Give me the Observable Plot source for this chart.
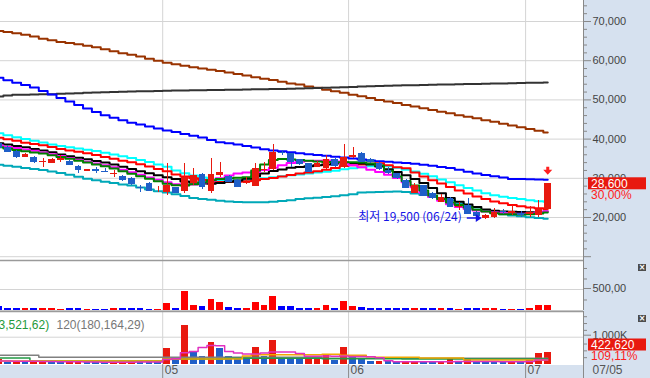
<!DOCTYPE html>
<html>
<head>
<meta charset="utf-8">
<script src="https://cdn.jsdelivr.net/npm/d3@7"></script>
<script src="https://cdn.jsdelivr.net/npm/@observablehq/plot@0.6"></script>
<style>
html,body{margin:0;padding:0;background:#fff;}
#wrap{position:relative;width:650px;height:378px;overflow:hidden;background:#fff;font-family:"Liberation Sans",Arial,sans-serif;}
#axisbg{position:absolute;left:583px;top:0;width:67px;height:378px;background:#d6e1ef;}
#xbg{position:absolute;left:0;top:365px;width:650px;height:13px;background:#d6e1ef;}
.icon{position:absolute;left:638px;width:8px;height:7px;background:#4d4d4d;color:#fff;font:bold 8px/7px "DejaVu Sans",sans-serif;text-align:center;}
</style>
</head>
<body>
<div id="wrap"><div id="axisbg"></div><div id="xbg"></div>
<div class="icon" style="top:264px">×</div><div class="icon" style="top:315px">×</div>
</div>
<script>
// ---------- data ----------
const dates = ["04/05","04/06","04/07","04/08","04/11","04/12","04/13","04/14","04/15","04/18","04/19","04/20","04/21","04/22","04/25","04/26","04/27","04/28","04/29",
"05/02","05/03","05/04","05/06","05/09","05/10","05/11","05/12","05/13","05/16","05/17","05/18","05/19","05/20","05/23","05/24","05/25","05/26","05/27","05/30","05/31",
"06/02","06/03","06/07","06/08","06/09","06/10","06/13","06/14","06/15","06/16","06/17","06/20","06/21","06/22","06/23","06/24","06/27","06/28","06/29","06/30",
"07/01","07/04","07/05"];
const opens = [38880,37930,36910,35380,35310,34080,33780,34540,34290,33010,31810,32120,31730,30890,30460,29950,27730,28800,27020,26450,27650,26710,28600,30970,26710,30710,30460,29440,28600,27990,31990,32170,36660,36250,34720,33700,32880,32420,34720,32830,35180,36400,34720,33850,31990,31150,29440,26200,28160,26200,23900,24920,22550,23060,21280,19670,20100,21530,21100,21100,20770,20510,22050];
const highs = [39130,38370,37090,36330,35560,35050,35050,35820,34540,33140,32240,32830,32580,31990,30590,30080,28290,28930,27910,33700,27780,33700,32420,31300,34970,33950,30590,29570,30280,33700,34110,38620,37090,36400,34920,33780,34290,35820,35050,38620,37730,36580,35050,34030,32760,31220,29570,28670,28290,26380,25870,25100,23900,24770,21530,20770,22300,22040,23060,21530,22810,24340,28600];
const lows = [37350,36580,34970,35310,33850,32880,33650,34110,33270,31350,31730,31150,31400,30280,29310,28290,26450,26630,26380,25610,26000,26050,28160,27070,26200,30280,28930,27650,28500,27910,31560,31990,35820,32830,33270,31480,32760,32370,32880,32420,34970,34030,33780,31990,30970,29690,27400,26120,25230,24590,23750,22550,21790,20640,20260,19500,19740,20770,20510,20080,20000,20080,21900];
const closes = [37600,36660,35380,36070,34110,34410,34800,34970,33340,32070,32170,31860,31480,31300,29440,28420,27400,26710,27270,28160,26050,30280,30710,27580,30970,31400,29000,27730,29000,32580,32370,36660,36250,34110,33440,31560,33650,34720,33090,35230,35940,34110,34110,32170,31300,29870,27470,28160,25360,24770,25030,22630,22810,20690,20380,20510,21350,21150,21610,20510,21280,22000,28600];

const maBrown = [67600,67300,67000,66600,66200,65600,65200,64800,64500,64200,63800,63400,62900,62400,61900,61500,61100,60500,60000,59500,59100,58700,58300,58000,57700,57400,57000,56600,56200,55800,55400,55100,54600,54200,53900,53400,53100,52600,52200,51800,51300,50900,50500,50000,49600,49200,48700,48300,47900,47400,47000,46600,46100,45700,45300,44800,44400,43900,43500,43000,42600,42100,41700];
const maGray = [50870,51100,51300,51330,51370,51410,51450,51540,51620,51710,51800,51870,51930,52000,52070,52120,52180,52230,52290,52350,52400,52430,52450,52480,52500,52530,52570,52610,52650,52690,52730,52770,52810,52850,52900,52970,53040,53110,53180,53250,53320,53390,53460,53530,53600,53670,53720,53760,53810,53850,53900,53940,53990,54030,54080,54120,54170,54210,54260,54300,54350,54390,54440];
const maBlue = [55640,55000,54400,53800,53150,52300,51400,50500,49600,48700,47800,46900,46100,45450,44800,44150,43700,43200,42700,42200,41800,41300,40850,40400,39800,39200,38950,38650,38250,37850,37400,37100,36900,36650,36400,36150,35950,35750,35500,35300,35050,34800,34550,34350,34200,34050,33900,33700,33450,33200,32900,32650,32150,31650,31200,30850,30500,30200,29850,29800,29750,29700,29620];
const maTeal = [33450,33200,32950,32650,32400,32100,31750,31350,30900,30400,29900,29500,29150,28800,28450,28150,27650,27150,26700,26400,25950,25500,25000,24700,24500,24300,24100,23950,23900,23900,23900,24000,24200,24400,24750,24900,25050,25250,25400,25650,25900,26350,26450,26500,26600,26630,26500,26150,25750,25300,24900,24400,23600,22800,22050,21650,21200,20800,20500,20300,20050,19850,19670];
const maCyan = [41500,41000,40500,40000,39550,39150,38650,38250,37900,37600,37300,36950,36500,36050,35650,35200,34700,34150,33550,32950,32000,31300,30700,30200,29700,29550,29450,29450,29500,29750,30000,30300,30500,30800,30950,31200,31450,31700,31950,32300,32550,32800,33050,33300,33100,32700,32200,31750,31150,30500,29700,29000,28200,27500,26900,26200,25700,25300,24950,24700,24400,24150,24000];
const maRed = [40350,39950,39550,39100,38750,38400,38000,37450,37100,36800,36400,35950,35450,35000,34500,34100,33600,33000,32400,31800,31000,30450,30000,29550,29050,29050,29100,29150,29250,29500,29800,30050,30450,30850,31200,31500,31800,32150,32600,33150,33350,33550,33700,33850,33300,32850,32550,31500,30450,29500,28650,27800,26900,26100,25350,24700,24100,23650,23200,22900,22550,22350,22170];
const maBlack = [38950,38600,38250,37900,37500,37100,36650,36050,35650,35250,34850,34400,34000,33500,32950,32400,31800,31300,30800,30250,29800,29200,28850,28700,28600,28800,29100,29450,29900,30550,31250,31850,32250,32700,32900,33100,33350,33550,33800,34050,33900,33750,33500,33000,32300,31600,30750,29850,28800,27500,26200,25000,24000,23300,22700,22050,21700,21550,21450,21400,21350,21350,21500];
const maMagenta = [38350,38000,37700,37350,37000,36600,36150,35700,35200,34700,34200,33800,33350,32800,32150,31550,30900,30200,29600,29000,28500,28200,28400,28900,29400,30000,30700,31200,31500,31600,32100,32700,33300,33900,34200,34400,34500,34550,34300,33800,33300,32800,32200,31600,30900,30100,29000,27700,26300,25200,24300,23400,22700,22200,21800,21500,21300,21100,20950,20950,21000,21300,21600];
const maGreen = [37950,37600,37250,36900,36600,36300,35900,35450,35000,34500,34000,33550,33100,32500,31800,31150,30500,29900,29250,28600,28250,28150,28500,29000,29500,29800,30000,30150,30300,32000,33500,34700,34950,34800,34650,34450,34300,34150,34100,34100,34100,34050,33800,33270,31900,30460,29300,28160,26900,25610,24700,23830,23200,22550,22000,21530,21100,20850,20800,20750,20800,21000,21300];

// second panel (trading value)
const tradeValue = [95,48,48,48,48,48,48,24,48,48,24,24,24,48,48,48,48,24,24,167,48,452,119,95,262,190,71,48,48,190,119,333,95,95,48,48,48,119,48,214,95,71,48,48,48,48,48,48,48,48,48,48,24,48,48,48,48,24,24,24,48,119,119];
// third panel (volume)
const volume = [180000,85000,100000,90000,110000,120000,95000,80000,90000,100000,75000,70000,65000,80000,90000,100000,95000,90000,70000,580000,190000,1440000,430000,310000,820000,580000,285000,190000,180000,615000,285000,895000,250000,245000,175000,180000,200000,375000,150000,640000,310000,165000,120000,125000,120000,90000,95000,100000,85000,80000,90000,185000,90000,185000,110000,100000,90000,80000,120000,70000,160000,387330,422620];
const volMagenta = [130,125,120,120,115,110,110,105,100,100,95,90,85,80,80,85,90,90,90,185,210,430,480,620,700,690,480,420,380,385,420,455,460,455,400,300,300,310,300,310,290,290,285,250,140,100,100,100,100,100,100,100,110,110,110,110,110,100,100,100,110,165,165];
const volOrange = [130,130,130,130,130,130,130,130,130,130,130,130,130,130,130,130,130,130,130,200,200,200,200,200,200,200,200,200,310,360,360,360,360,360,360,360,360,373,373,337,337,337,285,264,264,264,264,264,238,238,238,238,238,165,165,165,165,165,165,165,165,165,165];
const volGreen = [240,240,240,240,130,130,130,130,130,130,130,130,130,130,130,130,130,130,130,200,200,200,200,200,200,200,230,230,230,230,230,230,230,230,230,230,230,215,215,215,215,215,215,215,215,215,200,200,200,200,200,200,200,200,200,200,200,200,200,200,200,200,200];
const volGray = [335,335,335,335,335,265,265,265,265,265,265,265,265,265,265,265,265,265,265,265,265,265,265,265,265,265,265,265,265,265,265,265,265,265,265,265,265,225,225,225,225,225,225,225,225,225,225,225,225,225,225,225,225,225,225,225,225,225,225,225,225,225,225];
const volLegend = ["3,521,62)", "120(180,164,29)"];

const priceTicks = [10000,20000,30000,40000,50000,60000,70000];
const valueTicks = [500];
const volTicks = [1000000];

// ---------- layout / styles ----------
const RED = "#e8190f", BLUE = "#1f5fc8";
const xDomain = [0.175, 66.04];
const N = opens.length;
const idx = d3.range(N);
const candles = idx.map(i => ({i, date: dates[i], open: opens[i], high: highs[i], low: lows[i], close: closes[i]}));
const up = d => d.close >= d.open;
const monthStarts = idx.filter(i => i > 0 && dates[i].slice(0,2) !== dates[i-1].slice(0,2));
const monthBounds = monthStarts.map(i => i - 0.5);
const monthLabel = b => dates[b + 0.5].slice(0,2);
const last = candles[N-1];
const lowIdx = d3.minIndex(lows);
const lowNote = [{i: lowIdx, price: lows[lowIdx], date: dates[lowIdx]}];
const fmt = d3.format(",");
const GRID = "#d4d4d4";
const base = {
  width: 650, marginLeft: 0, marginRight: 67,
  x: {domain: xDomain, axis: null},
  color: {type: "identity"},
  style: {background: "transparent", fontFamily: "'Liberation Sans', Arial, sans-serif", fontSize: "11px", position: "absolute", left: "0px", overflow: "visible"}
};
const downArrow = {draw(c){ c.moveTo(-1.5,-5); c.lineTo(1.5,-5); c.lineTo(1.5,-2); c.lineTo(4.5,-2); c.lineTo(0,3); c.lineTo(-4.5,-2); c.lineTo(-1.5,-2); c.closePath(); }};
const rightArrow = {draw(c){ c.moveTo(-15,-0.8); c.lineTo(-6,-0.8); c.lineTo(-6,-4); c.lineTo(0,0); c.lineTo(-6,4); c.lineTo(-6,0.8); c.lineTo(-15,0.8); c.closePath(); }};

const maDefs = [
  [maBrown, "#993300"], [maGray, "#333333"], [maBlue, "#0000ff"], [maTeal, "#00a8b8"],
  [maCyan, "#00ffff"], [maRed, "#ff0000"], [maBlack, "#000000"], [maMagenta, "#ff00ff"], [maGreen, "#008000"]
];
const minor = (lo, hi, step, skip) => d3.range(lo, hi + 1, step).filter(v => v % skip !== 0);

// ---------- main price panel ----------
const main = Plot.plot({
  ...base, height: 260, marginTop: 0, marginBottom: 0,
  y: {domain: [9031, 75357], axis: null},
  style: {...base.style, top: "0px"},
  marks: [
    Plot.gridY(priceTicks, {stroke: GRID, strokeOpacity: 1}),
    Plot.ruleX(monthBounds, {stroke: GRID}),
    ...maDefs.map(([v, c]) => Plot.line(v, {x: (d, i) => i, y: d => d, stroke: c, strokeWidth: 2, curve: "step"})),
    Plot.ruleX(candles, {x: "i", y1: "low", y2: "high", stroke: d => up(d) ? RED : BLUE, strokeWidth: 1, shapeRendering: "crispEdges"}),
    Plot.rect(candles, {x1: d => d.i - 0.38, x2: d => d.i + 0.38, y1: "open", y2: "close", fill: d => up(d) ? RED : BLUE, shapeRendering: "crispEdges"}),
    Plot.dot([last], {x: "i", y: "high", symbol: downArrow, fill: "#ff2020", stroke: null, dy: -12}),
    Plot.dot(lowNote, {x: "i", y: "price", symbol: rightArrow, fill: "#1414e6", stroke: null, dx: -4, dy: -1.5}),
    Plot.text(lowNote, {x: "i", y: "price", text: d => `최저 ${fmt(d.price)} (${d.date})`, textAnchor: "end", dx: -24, dy: -2, fill: "#1414e6", fontSize: 12, fontFamily: "'Noto Sans CJK KR', sans-serif"}),
    Plot.ruleX([xDomain[1]], {stroke: "#888"}),
    Plot.axisY(minor(10000, 74000, 2000, 10000), {anchor: "right", tickSize: 3, tickFormat: () => "", stroke: "#888"}),
    Plot.axisY(priceTicks, {anchor: "right", tickSize: 7, tickPadding: 2, tickFormat: d => d >= 20000 ? fmt(d) : "", stroke: "#888", fill: "#444", fontSize: 11})
  ]
});

// ---------- trading value panel ----------
const p2 = Plot.plot({
  ...base, height: 51, marginTop: 0, marginBottom: 1,
  y: {domain: [0, 1190], axis: null},
  style: {...base.style, top: "260px"},
  marks: [
    Plot.gridY([0, ...valueTicks], {stroke: GRID, strokeOpacity: 1}),
    Plot.ruleX(monthBounds, {stroke: GRID}),
    Plot.rect(idx, {x1: i => i - 0.38, x2: i => i + 0.38, y1: 0, y2: i => tradeValue[i], fill: i => up(candles[i]) ? "#ff0000" : "#0000ff", shapeRendering: "crispEdges"}),
    Plot.ruleX([xDomain[1]], {stroke: "#888"}),
    Plot.ruleY([1190], {stroke: "#9a9a9a", strokeWidth: 1.5}),
    Plot.axisY(minor(0, 1000, 250, 500).concat([1000]), {anchor: "right", tickSize: 3, tickFormat: () => "", stroke: "#888"}),
    Plot.axisY(valueTicks, {anchor: "right", tickSize: 7, tickPadding: 2, tickFormat: d => d3.format(".2f")(d).replace(".", ","), stroke: "#888", fill: "#444", fontSize: 11, dy: -1})
  ]
});

// ---------- volume panel ----------
const volTop = 1941000;
const volLines = [[volGray, "#808080"], [volGreen, "#229944"], [volOrange, "#f0a800"], [volMagenta, "#e030c0"]];
const p3 = Plot.plot({
  ...base, height: 67, marginTop: 0, marginBottom: 14,
  x: {domain: xDomain},
  y: {domain: [0, volTop], axis: null},
  style: {...base.style, top: "311px"},
  marks: [
    Plot.gridY(volTicks, {stroke: GRID, strokeOpacity: 1}),
    Plot.ruleX(monthBounds, {stroke: GRID}),
    Plot.rect(idx, {x1: i => i - 0.38, x2: i => i + 0.38, y1: 0, y2: i => volume[i], fill: i => (i === 0 || volume[i] >= volume[i-1]) ? RED : BLUE, shapeRendering: "crispEdges"}),
    ...volLines.map(([v, c]) => Plot.line(v, {x: (d, i) => i, y: d => d * 1000, stroke: c, strokeWidth: 1.5, curve: "step"})),
    Plot.text([volLegend[0]], {frameAnchor: "top-left", dx: -2, dy: 9, textAnchor: "start", fill: "#1f9a3a", fontSize: 12}),
    Plot.text([volLegend[1]], {frameAnchor: "top-left", dx: 56, dy: 9, textAnchor: "start", fill: "#777", fontSize: 12}),
    Plot.ruleX([xDomain[1]], {stroke: "#888"}),
    Plot.ruleY([volTop], {stroke: "#9a9a9a", strokeWidth: 1.5}),
    Plot.axisY(minor(0, 1750000, 250000, 1000000), {anchor: "right", tickSize: 3, tickFormat: () => "", stroke: "#888"}),
    Plot.axisY(volTicks, {anchor: "right", tickSize: 7, tickPadding: 2, tickFormat: d => fmt(d / 1000) + "K", stroke: "#888", fill: "#444", fontSize: 11, dy: -2}),
    Plot.axisX([...monthBounds, xDomain[1]], {anchor: "bottom", tickSize: 14, tickFormat: () => "", stroke: "#8a8a8a"}),
    Plot.axisX(monthBounds, {anchor: "bottom", tickSize: 0, tickPadding: 1, tickFormat: monthLabel, textAnchor: "start", dx: 2, fill: "#555", fontSize: 12}),
    Plot.text([last.date], {frameAnchor: "bottom-right", dx: 9, dy: 1, lineAnchor: "top", textAnchor: "start", fill: "#555", fontSize: 12})
  ]
});

const wrap = document.getElementById("wrap");
[main, p2, p3].forEach(s => wrap.appendChild(s));

// ---------- value tags on the right axis ----------
function tag(svg, yPix, label, pct) {
  const g = d3.select(svg).append("g")
    .attr("font-family", "'Liberation Sans', Arial, sans-serif").attr("font-size", 12).attr("text-anchor", "start");
  g.append("rect").attr("x", 588).attr("y", yPix - 6).attr("width", 58).attr("height", 12).attr("fill", RED);
  g.append("text").attr("x", 591).attr("y", yPix + 4.5).attr("text-anchor", "start").attr("fill", "#fff").text(label);
  g.append("text").attr("x", 591).attr("y", yPix + 15.5).attr("text-anchor", "start").attr("fill", "#ff2020").text(pct);
}
const prevClose = closes[N-2];
const chg = ((last.close / prevClose - 1) * 100).toFixed(2).replace(".", ",") + "%";
tag(main, main.scale("y").apply(last.close), fmt(last.close), chg);
const vRatio = (volume[N-1] / volume[N-2] * 100).toFixed(2).replace(".", ",") + "%";
const vy = Math.min(p3.scale("y").apply(volume[N-1]), 53 - 19.5);
tag(p3, vy, fmt(volume[N-1]), vRatio);
</script>
</body>
</html>
